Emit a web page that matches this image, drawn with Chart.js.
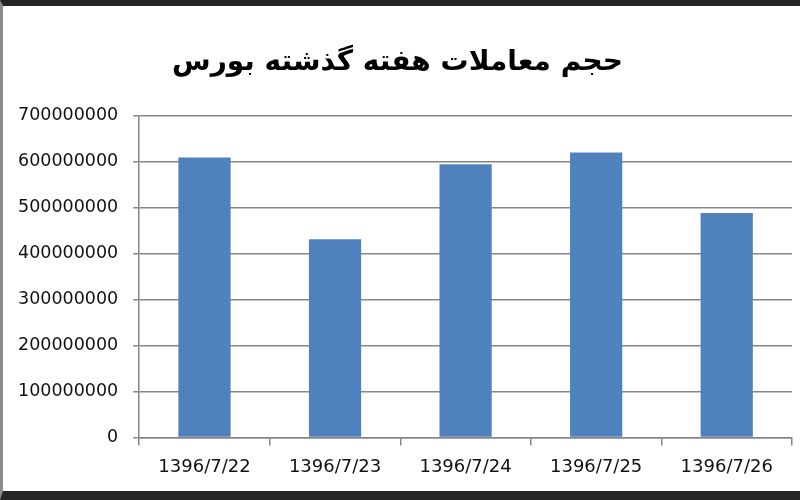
<!DOCTYPE html>
<html>
<head>
<meta charset="utf-8">
<script src="https://cdn.jsdelivr.net/npm/chart.js"></script>
<style>
  html, body { margin: 0; padding: 0; background: #fff; }
  #frame {
    width: 797px; height: 485px;
    border-top: 6px solid #262626;
    border-left: 3px solid #8a8a8a;
    border-bottom: 9px solid #262626;
    background: #fff;
  }
</style>
</head>

<body>
<div id="frame">
  <canvas id="myChart" width="797" height="485"></canvas>
</div>

<script>
  // trading days (Persian calendar) and traded volume
  const days = ['1396/7/22', '1396/7/23', '1396/7/24', '1396/7/25', '1396/7/26'];
  const volume = [609000000, 431000000, 594000000, 620000000, 488000000];
  const yTicks = [0, 100000000, 200000000, 300000000, 400000000, 500000000, 600000000, 700000000];
  const chartTitle = 'حجم معاملات هفته گذشته بورس';

  const ctx = document.getElementById('myChart');
  new Chart(ctx, {
    type: 'bar',
    data: {
      labels: days,
      datasets: [{
        label: 'volume',
        data: volume,
        backgroundColor: '#4f81bd',
        barPercentage: 0.4,
        categoryPercentage: 1.0
      }]
    },
    options: {
      responsive: false,
      animation: false,
      layout: { padding: { left: 0, right: 8, top: 40, bottom: 2 } },
      plugins: {
        legend: { display: false },
        tooltip: { enabled: false },
        title: {
          display: true,
          text: chartTitle,
          color: '#000',
          font: { family: 'DejaVu Sans', size: 28, weight: 'bold' },
          padding: { top: 0, bottom: 36 }
        }
      },
      scales: {
        x: {
          grid: {
            display: true,
            drawOnChartArea: false,
            drawTicks: true,
            tickLength: 8,
            color: '#868686',
            lineWidth: 1.5
          },
          border: { color: '#868686', width: 1.5 },
          ticks: {
            color: '#111',
            font: { family: 'DejaVu Sans', size: 18 },
            padding: 11
          }
        },
        y: {
          min: 0,
          max: 700000000,
          afterBuildTicks: axis => { axis.ticks = yTicks.map(v => ({ value: v })); },
          grid: {
            color: '#868686',
            lineWidth: 1.5,
            tickLength: 6
          },
          border: { color: '#868686', width: 1.5 },
          ticks: {
            color: '#111',
            font: { family: 'DejaVu Sans', size: 17.5 },
            padding: 15,
            callback: v => String(v)
          }
        }
      }
    }
  });
</script>
</body>
</html>
